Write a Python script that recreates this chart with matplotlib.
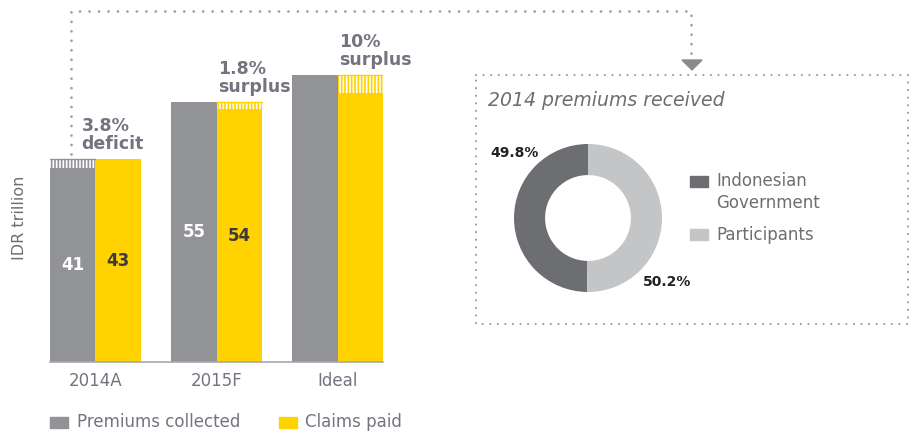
import matplotlib
matplotlib.use('Agg')
import matplotlib.pyplot as plt
from matplotlib.patches import Rectangle, Polygon
from matplotlib.lines import Line2D

categories = ['2014A', '2015F', 'Ideal']
premiums = [41, 55, 60.8]
claims = [43, 53.6, 57]
bar_labels_prem = ['41', '55', '']
bar_labels_claims = ['43', '54', '']
gap_notes = ['3.8%\ndeficit', '1.8%\nsurplus', '10%\nsurplus']

pie_names = ['Indonesian\nGovernment', 'Participants']
pie_values = [49.8, 50.2]
pie_labels = ['49.8%', '50.2%']

GRAY = '#929397'
YELLOW = '#ffd200'
TXT = '#747480'
DARK = '#6d6e71'
LIGHT = '#c4c5c7'
DOT = '#a0a0a4'

W, H = 911, 432
fig = plt.figure(figsize=(W / 100, H / 100), dpi=100)
plt.rcParams['font.family'] = ['DejaVu Sans']
plt.rcParams['hatch.linewidth'] = 1.2


def fx(x):
    return x / W


def fy(y):
    return 1 - y / H


# ---- bar chart ----
ax = fig.add_axes([fx(50), fy(362), 333 / W, 350 / H])
bw = 0.376
xs = list(range(len(categories)))
ax.bar([x - bw / 2 for x in xs], premiums, bw, color=GRAY, lw=0)
ax.bar([x + bw / 2 for x in xs], claims, bw, color=YELLOW, lw=0)
# hatched gap between premiums and claims
for x, p, c in zip(xs, premiums, claims):
    if c > p:
        ax.bar(x - bw / 2, c - p, bw, bottom=p, facecolor='white',
               edgecolor=GRAY, hatch='|||||', lw=0)
        ax.plot([x - bw, x], [c, c], color=GRAY, lw=1)
    else:
        ax.bar(x + bw / 2, p - c, bw, bottom=c, facecolor='white',
               edgecolor=YELLOW, hatch='|||||', lw=0)
        ax.plot([x, x + bw], [p, p], color=YELLOW, lw=1)

for x, p, c, lp, lc in zip(xs, premiums, claims, bar_labels_prem, bar_labels_claims):
    ax.text(x - bw / 2, p / 2, lp, ha='center', va='center', color='white',
            fontsize=12, fontweight='bold')
    ax.text(x + bw / 2, c / 2, lc, ha='center', va='center', color='#3c3c3c',
            fontsize=12, fontweight='bold')

note_dx = [-0.116, 0.01, 0.01]
for x, p, c, n, dx in zip(xs, premiums, claims, gap_notes, note_dx):
    ax.text(x + dx, max(p, c) + 1.3, n, ha='left', va='bottom', color=TXT,
            fontsize=12.5, fontweight='bold', linespacing=1.0)

ax.set_xlim(-bw, 2 + bw)
ax.set_ylim(0, 350 / 4.72)
ax.set_xticks(xs)
ax.set_xticklabels(categories, fontsize=12, color=TXT)
ax.tick_params(axis='x', length=0, pad=7)
ax.set_yticks([])
for s in ['top', 'right', 'left']:
    ax.spines[s].set_visible(False)
ax.spines['bottom'].set_color('#a7a9ac')
ax.spines['bottom'].set_linewidth(1.2)
ax.patch.set_alpha(0)

fig.text(fx(20), fy(218), 'IDR trillion', rotation=90, ha='center', va='center',
         fontsize=11.5, color=DARK)

# bottom legend
fig.patches.append(Rectangle((fx(50), fy(428)), 18 / W, 11 / H, color=GRAY,
                             transform=fig.transFigure, figure=fig))
fig.text(fx(77), fy(422), 'Premiums collected', ha='left', va='center',
         fontsize=12, color=TXT)
fig.patches.append(Rectangle((fx(279), fy(428)), 18 / W, 11 / H, color=YELLOW,
                             transform=fig.transFigure, figure=fig))
fig.text(fx(305), fy(422), 'Claims paid', ha='left', va='center',
         fontsize=12, color=TXT)

# ---- dotted connector and box ----
def dotted(xpts, ypts, lw=2.0):
    fig.lines.append(Line2D([fx(v) for v in xpts], [fy(v) for v in ypts],
                            transform=fig.transFigure, figure=fig, color=DOT,
                            lw=lw, linestyle=(0, (0.01, 3.4)),
                            dash_capstyle='round'))


dotted([71, 71, 691, 691], [154, 11, 11, 58])
fig.patches.append(Polygon([(fx(682), fy(60)), (fx(702), fy(60)), (fx(692), fy(70))],
                           closed=True, color='#8a8b8e',
                           transform=fig.transFigure, figure=fig))
dotted([476, 908, 908, 476, 476], [75, 75, 324, 324, 75], lw=1.6)

fig.text(fx(488), fy(101), '2014 premiums received', ha='left', va='center',
         fontsize=13.6, color=DARK, style='italic')

# ---- donut ----
cx, cy, r = 588, 218, 74
pax = fig.add_axes([fx(cx - r), fy(cy + r), 2 * r / W, 2 * r / H])
pax.pie(pie_values, colors=[DARK, LIGHT], startangle=90,
        wedgeprops=dict(width=0.42, linewidth=0))
pax.set_xlim(-1, 1)
pax.set_ylim(-1, 1)
pax.set_aspect('equal')
pax.axis('off')

fig.text(fx(515), fy(153), pie_labels[0], ha='center', va='center',
         fontsize=10, fontweight='bold', color='#222222')
fig.text(fx(667), fy(282), pie_labels[1], ha='center', va='center',
         fontsize=10, fontweight='bold', color='#222222')

leg_y = [(176, 182), (229, 235)]
for (ry, ty), name, col in zip(leg_y, pie_names, [DARK, LIGHT]):
    fig.patches.append(Rectangle((fx(690), fy(ry + 11)), 18 / W, 11 / H, color=col,
                                 transform=fig.transFigure, figure=fig))
    fig.text(fx(716), fy(ty), name, ha='left', va='top' if '\n' in name else 'center',
             fontsize=12, color=DARK, linespacing=1.25)

# adjust first legend label top position
fig.texts[-2].set_position((fx(716), fy(172)))

fig.savefig('out.png', dpi=100)
